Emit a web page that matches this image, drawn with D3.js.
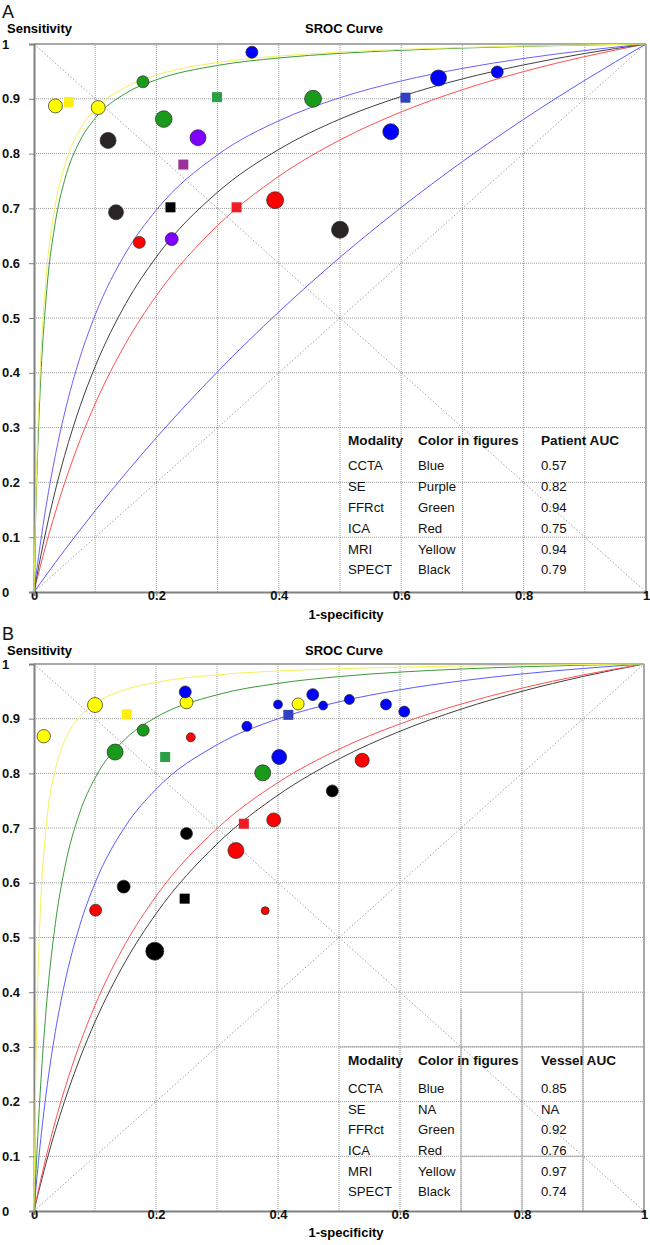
<!DOCTYPE html>
<html><head><meta charset="utf-8">
<script src="https://cdn.jsdelivr.net/npm/d3@7"></script>
<style>
body{margin:0;background:#fff;}
svg{display:block;font-family:"Liberation Sans",Arial,Helvetica,sans-serif;}
</style>
</head><body>
<svg id="chart" width="650" height="1245"></svg>
<script>
// ---------- DATA ----------
const modalities = ['CCTA', 'SE', 'FFRct', 'ICA', 'MRI', 'SPECT'];
const tableColorsA = ['Blue', 'Purple', 'Green', 'Red', 'Yellow', 'Black'];
const tableAUCA = ['0.57', '0.82', '0.94', '0.75', '0.94', '0.79'];
const tableColorsB = ['Blue', 'NA', 'Green', 'Red', 'Yellow', 'Black'];
const tableAUCB = ['0.85', 'NA', '0.92', '0.76', '0.97', '0.74'];

const xTicks = [0, 0.2, 0.4, 0.6, 0.8, 1];
const xTickLabels = ['0', '0.2', '0.4', '0.6', '0.8', '1'];
const yTicks = [0, 0.1, 0.2, 0.3, 0.4, 0.5, 0.6, 0.7, 0.8, 0.9, 1];
const yTickLabels = ['0', '0.1', '0.2', '0.3', '0.4', '0.5', '0.6', '0.7', '0.8', '0.9', '1'];
const gridValues = [0.1, 0.2, 0.3, 0.4, 0.5, 0.6, 0.7, 0.8, 0.9];

// SROC curve samples (1-specificity grid, sensitivity)
const curveFPR = [0, 0.002, 0.005, 0.01, 0.02, 0.035, 0.05, 0.075, 0.1, 0.15, 0.2, 0.3, 0.4, 0.5, 0.6, 0.7, 0.8, 0.9, 1];
// Panel A (patient level)
const mriA   = [0, 0.1179, 0.2509, 0.4024, 0.5764, 0.7074, 0.7782, 0.8439, 0.8811, 0.9217, 0.9434, 0.9662, 0.978, 0.9852, 0.9901, 0.9936, 0.9963, 0.9983, 1];
const ffrA   = [0, 0.1032, 0.2239, 0.367, 0.5395, 0.6755, 0.7513, 0.8231, 0.8645, 0.9102, 0.9348, 0.9609, 0.9745, 0.9829, 0.9885, 0.9926, 0.9957, 0.9981, 1];
const seA    = [0, 0.0181, 0.0442, 0.0851, 0.1582, 0.2503, 0.3264, 0.4274, 0.5057, 0.619, 0.6972, 0.7978, 0.8599, 0.902, 0.9325, 0.9555, 0.9736, 0.9881, 1];
const spectA = [0, 0.0125, 0.0307, 0.0598, 0.1139, 0.1859, 0.2489, 0.338, 0.4116, 0.5263, 0.6115, 0.7296, 0.8076, 0.863, 0.9042, 0.9363, 0.9618, 0.9827, 1];
const icaA   = [0, 0.0094, 0.0231, 0.0454, 0.0877, 0.1459, 0.1987, 0.2764, 0.3436, 0.454, 0.5408, 0.6688, 0.7585, 0.8249, 0.876, 0.9166, 0.9496, 0.977, 1];
const cctaA  = [0, 0.0031, 0.0078, 0.0156, 0.031, 0.0538, 0.0763, 0.1128, 0.1484, 0.2168, 0.2817, 0.402, 0.5111, 0.6107, 0.7017, 0.7854, 0.8625, 0.9338, 1];
// Panel B (vessel level)
const mriB   = [0, 0.1881, 0.3674, 0.5387, 0.7022, 0.8074, 0.8588, 0.9036, 0.9278, 0.9533, 0.9665, 0.9802, 0.9872, 0.9914, 0.9943, 0.9963, 0.9978, 0.999, 1];
const ffrB   = [0, 0.0438, 0.1118, 0.2134, 0.3703, 0.5254, 0.6251, 0.7284, 0.7913, 0.8632, 0.9025, 0.9437, 0.9646, 0.977, 0.9852, 0.9908, 0.9949, 0.9979, 1];
const cctaB  = [0, 0.0263, 0.0634, 0.1197, 0.2156, 0.3281, 0.4147, 0.5219, 0.5993, 0.7037, 0.771, 0.8523, 0.8998, 0.9309, 0.9528, 0.9691, 0.9818, 0.9918, 1];
const icaB   = [0, 0.0107, 0.0265, 0.0519, 0.0996, 0.1643, 0.2219, 0.3053, 0.3758, 0.4889, 0.5753, 0.6991, 0.7833, 0.8442, 0.8905, 0.9267, 0.9559, 0.9799, 1];
const spectB = [0, 0.0094, 0.0234, 0.0459, 0.0885, 0.1472, 0.2003, 0.2784, 0.3458, 0.4564, 0.5433, 0.671, 0.7603, 0.8264, 0.8771, 0.9174, 0.9501, 0.9772, 1];

// individual studies: modality, 1-specificity, sensitivity, relative study weight
const patientStudies = [
  ['MRI', 0.035, 0.887, 49], ['MRI', 0.105, 0.884, 49],
  ['FFRct', 0.178, 0.931, 36], ['FFRct', 0.212, 0.863, 69], ['FFRct', 0.456, 0.900, 72],
  ['CCTA', 0.356, 0.985, 36], ['CCTA', 0.661, 0.938, 64], ['CCTA', 0.757, 0.949, 36], ['CCTA', 0.583, 0.840, 64],
  ['SPECT', 0.121, 0.824, 64], ['SPECT', 0.134, 0.693, 56], ['SPECT', 0.500, 0.661, 72],
  ['SE', 0.268, 0.829, 64], ['SE', 0.225, 0.644, 42],
  ['ICA', 0.394, 0.715, 72], ['ICA', 0.172, 0.638, 36]
];
// pooled summary points (squares)
const patientSummary = [
  ['MRI', 0.057, 0.894], ['FFRct', 0.299, 0.903], ['SE', 0.244, 0.780],
  ['SPECT', 0.223, 0.702], ['ICA', 0.331, 0.702], ['CCTA', 0.607, 0.902]
];
const vesselStudies = [
  ['MRI', 0.016, 0.868, 45], ['MRI', 0.100, 0.925, 56], ['MRI', 0.250, 0.930, 42], ['MRI', 0.433, 0.927, 36],
  ['FFRct', 0.133, 0.839, 64], ['FFRct', 0.179, 0.879, 36], ['FFRct', 0.375, 0.801, 64],
  ['CCTA', 0.248, 0.949, 36], ['CCTA', 0.349, 0.886, 25], ['CCTA', 0.402, 0.830, 56], ['CCTA', 0.400, 0.926, 20],
  ['CCTA', 0.457, 0.944, 36], ['CCTA', 0.474, 0.924, 20], ['CCTA', 0.517, 0.935, 25], ['CCTA', 0.577, 0.926, 30], ['CCTA', 0.607, 0.913, 30],
  ['ICA', 0.257, 0.866, 20], ['ICA', 0.393, 0.715, 49], ['ICA', 0.331, 0.659, 64], ['ICA', 0.538, 0.824, 49],
  ['ICA', 0.101, 0.550, 36], ['ICA', 0.379, 0.549, 16],
  ['SPECT', 0.250, 0.690, 36], ['SPECT', 0.489, 0.768, 36], ['SPECT', 0.147, 0.593, 42], ['SPECT', 0.198, 0.475, 81]
];
const vesselSummary = [
  ['MRI', 0.152, 0.908], ['FFRct', 0.215, 0.830], ['CCTA', 0.417, 0.907],
  ['ICA', 0.344, 0.708], ['SPECT', 0.247, 0.571]
];

// ---------- STYLE ----------
const studyColorA = {CCTA:'#0000ff', SE:'#7f00ff', FFRct:'#1a9a1a', ICA:'#ff0000', MRI:'#ffff00', SPECT:'#2b2424'};
const studyColorB = {CCTA:'#0000ff', SE:'#7f00ff', FFRct:'#1a9a1a', ICA:'#ff0000', MRI:'#ffff00', SPECT:'#000000'};
const summaryColor = {CCTA:'#3040c0', SE:'#993399', FFRct:'#2ca044', ICA:'#ee1c24', MRI:'#ffee10', SPECT:'#000000'};
const curveColor = {CCTA:'#5a5aff', SE:'#6a60ff', FFRct:'#3a9a3a', ICA:'#ff5050', MRI:'#f2f25a', SPECT:'#404040'};

const svg = d3.select('#chart');
const rScale = d3.scaleSqrt().domain([0, 100]).range([0, 10]);

function drawPanel(cfg) {
  const x = d3.scaleLinear().domain([0, 1]).range(cfg.xr);
  const y = d3.scaleLinear().domain([0, 1]).range(cfg.yr);
  const g = svg.append('g');

  // letter and titles
  g.append('text').attr('x', 2).attr('y', cfg.letterY).attr('font-size', 18)
    .attr('fill', '#111').text(cfg.letter);
  g.append('text').attr('x', 7).attr('y', cfg.titleY).attr('font-size', 13)
    .attr('font-weight', 'bold').text('Sensitivity');
  g.append('text').attr('x', 305).attr('y', cfg.titleY).attr('font-size', 13)
    .attr('font-weight', 'bold').text('SROC Curve');

  // grid
  g.append('g').selectAll('line').data(gridValues).join('line')
    .attr('x1', d => x(d)).attr('x2', d => x(d)).attr('y1', y(0)).attr('y2', y(1))
    .attr('stroke', '#9a9a9a').attr('stroke-width', 1).attr('stroke-dasharray', '1,1');
  g.append('g').selectAll('line').data(gridValues).join('line')
    .attr('y1', d => y(d)).attr('y2', d => y(d)).attr('x1', x(0)).attr('x2', x(1))
    .attr('stroke', '#9a9a9a').attr('stroke-width', 1).attr('stroke-dasharray', '1,1');

  // extra table rule lines (panel B)
  (cfg.rules || []).forEach(r => {
    g.append('line').attr('x1', x(r[0])).attr('y1', y(r[1])).attr('x2', x(r[2])).attr('y2', y(r[3]))
      .attr('stroke', '#a8a8a8').attr('stroke-width', 1);
  });

  // diagonals
  [[0, 0, 1, 1], [0, 1, 1, 0]].forEach(d => {
    g.append('line').attr('x1', x(d[0])).attr('y1', y(d[1])).attr('x2', x(d[2])).attr('y2', y(d[3]))
      .attr('stroke', '#8a8a8a').attr('stroke-width', 0.8).attr('stroke-dasharray', '1.5,2');
  });

  // frame
  g.append('line').attr('x1', x(0)).attr('x2', x(1)).attr('y1', y(1)).attr('y2', y(1))
    .attr('stroke', '#8c8c8c').attr('stroke-width', 1.5);
  g.append('line').attr('x1', x(1)).attr('x2', x(1)).attr('y1', y(0)).attr('y2', y(1))
    .attr('stroke', '#8c8c8c').attr('stroke-width', 1.5);

  // axes
  const xAxis = d3.axisBottom(x).tickValues(xTicks).tickSize(4).tickFormat((d, i) => xTickLabels[i]);
  const ax = g.append('g').attr('transform', `translate(0,${y(0)})`).call(xAxis);
  ax.select('.domain').attr('stroke', '#808080').attr('stroke-width', 2);
  ax.selectAll('.tick line').attr('stroke', '#808080');
  ax.selectAll('.tick text').attr('font-size', 13).attr('font-weight', 'bold').attr('fill', '#111')
    .attr('font-family', '"Liberation Sans",Arial,sans-serif').attr('dy', null).attr('y', cfg.xLabelDY);

  const yAxis = d3.axisLeft(y).tickValues(yTicks).tickSize(5).tickFormat((d, i) => yTickLabels[i]);
  const ay = g.append('g').attr('transform', `translate(${x(0)},0)`).call(yAxis);
  ay.select('.domain').attr('stroke', '#808080').attr('stroke-width', 2);
  ay.selectAll('.tick line').attr('stroke', '#808080');
  ay.selectAll('.tick text').attr('font-size', 13).attr('font-weight', 'bold').attr('fill', '#111')
    .attr('font-family', '"Liberation Sans",Arial,sans-serif')
    .attr('text-anchor', 'start').attr('x', 2 - x(0));

  g.append('text').attr('x', 346).attr('y', cfg.xTitleY).attr('text-anchor', 'middle')
    .attr('font-size', 13).attr('font-weight', 'bold').text('1-specificity');

  // curves
  const line = d3.line().x(d => x(d[0])).y(d => y(d[1])).curve(d3.curveMonotoneX);
  cfg.curves.forEach(c => {
    g.append('path').datum(curveFPR.map((f, i) => [f, c.sens[i]]))
      .attr('d', line).attr('fill', 'none').attr('stroke', curveColor[c.m]).attr('stroke-width', 1);
  });

  // studies
  g.append('g').selectAll('circle').data(cfg.studies).join('circle')
    .attr('cx', d => x(d[1])).attr('cy', d => y(d[2])).attr('r', d => rScale(d[3]))
    .attr('fill', d => cfg.studyColor[d[0]]).attr('stroke', '#2a2a2a').attr('stroke-width', 0.7);

  // summaries
  const s = 10;
  g.append('g').selectAll('rect').data(cfg.summaries).join('rect')
    .attr('x', d => x(d[1]) - s / 2).attr('y', d => y(d[2]) - s / 2)
    .attr('width', s).attr('height', s).attr('fill', d => summaryColor[d[0]]);

  // table
  const cols = [348, 418, 541];
  const t = g.append('g').attr('font-size', 13.2).attr('fill', '#111');
  ['Modality', 'Color in figures', cfg.aucTitle].forEach((h, i) => {
    t.append('text').attr('x', cols[i]).attr('y', cfg.headerY).attr('font-weight', 'bold')
      .attr('font-size', 13.6).text(h);
  });
  modalities.forEach((m, i) => {
    const yy = cfg.rowY0 + i * cfg.rowStep;
    t.append('text').attr('x', cols[0]).attr('y', yy).text(m);
    t.append('text').attr('x', cols[1]).attr('y', yy).text(cfg.colorsCol[i]);
    t.append('text').attr('x', cols[2]).attr('y', yy).text(cfg.aucCol[i]);
  });
}

drawPanel({
  letter: 'A', letterY: 18, titleY: 33,
  xr: [34, 646], yr: [592, 44], xLabelDY: 8, xTitleY: 619,
  curves: [{m:'CCTA', sens:cctaA}, {m:'ICA', sens:icaA}, {m:'SPECT', sens:spectA},
           {m:'SE', sens:seA}, {m:'FFRct', sens:ffrA}, {m:'MRI', sens:mriA}],
  studies: patientStudies, summaries: patientSummary, studyColor: studyColorA,
  aucTitle: 'Patient AUC', colorsCol: tableColorsA, aucCol: tableAUCA,
  headerY: 444.5, rowY0: 470.3, rowStep: 20.8
});

drawPanel({
  letter: 'B', letterY: 640, titleY: 655,
  xr: [34, 644], yr: [1211, 664], xLabelDY: 8, xTitleY: 1237,
  curves: [{m:'SPECT', sens:spectB}, {m:'ICA', sens:icaB}, {m:'CCTA', sens:cctaB},
           {m:'FFRct', sens:ffrB}, {m:'MRI', sens:mriB}],
  studies: vesselStudies, summaries: vesselSummary, studyColor: studyColorB,
  aucTitle: 'Vessel AUC', colorsCol: tableColorsB, aucCol: tableAUCB,
  headerY: 1065.2, rowY0: 1092.8, rowStep: 20.7,
  rules: [[0.7, 0.4, 0.9, 0.4], [0.5, 0.3, 1, 0.3], [0.7, 0.1, 0.9, 0.1],
          [0.7, 0, 0.7, 0.37], [0.8, 0, 0.8, 0.4], [0.9, 0, 0.9, 0.4]]
});
</script>
</body></html>
